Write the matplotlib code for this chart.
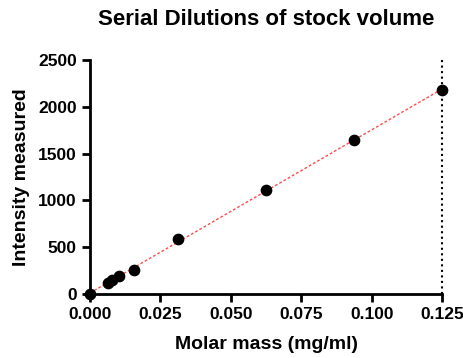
import matplotlib
matplotlib.use("Agg")
import matplotlib.pyplot as plt
import numpy as np

plt.rcParams['font.family'] = ['Liberation Sans', 'DejaVu Sans']
plt.rcParams['font.weight'] = 'bold'

# data
conc = [0.0, 0.00625, 0.0078125, 0.0104, 0.015625, 0.03125, 0.0625, 0.09375, 0.125]
intensity = [0, 121, 150, 192, 256, 587, 1111, 1650, 2180]

fig = plt.figure(figsize=(4.64, 3.58), dpi=100)
ax = fig.add_axes([0.194, 0.179, 0.759, 0.653])

# linear fit through the points
slope, intercept = np.polyfit(conc, intensity, 1)
xfit = np.array([0.0, 0.125])
ax.plot(xfit, slope * xfit + intercept, color='#ff4d4d', linestyle=(0, (2, 1.5)), linewidth=1, zorder=2)

ax.scatter(conc, intensity, s=55, color='black', zorder=3, clip_on=False)
ax.axvline(0.125, color='black', linestyle=':', linewidth=1.5, ymax=1.01, clip_on=False)

ax.set_xlim(0, 0.125)
ax.set_ylim(0, 2500)
ax.set_xticks([0, 0.025, 0.05, 0.075, 0.1, 0.125])
ax.set_xticklabels(['0.000', '0.025', '0.050', '0.075', '0.100', '0.125'])
ax.set_yticks([0, 500, 1000, 1500, 2000, 2500])

for side in ['top', 'right']:
    ax.spines[side].set_visible(False)
for side in ['left', 'bottom']:
    ax.spines[side].set_linewidth(2)
ax.tick_params(width=2, length=6, labelsize=12.5)

ax.set_xlabel('Molar mass (mg/ml)', fontsize=14, fontweight='bold', labelpad=10)
ax.set_ylabel('Intensity measured', fontsize=14, fontweight='bold', labelpad=6)
ax.set_title('Serial Dilutions of stock volume', fontsize=16, fontweight='bold', pad=25)

plt.savefig('out.png', dpi=100)
